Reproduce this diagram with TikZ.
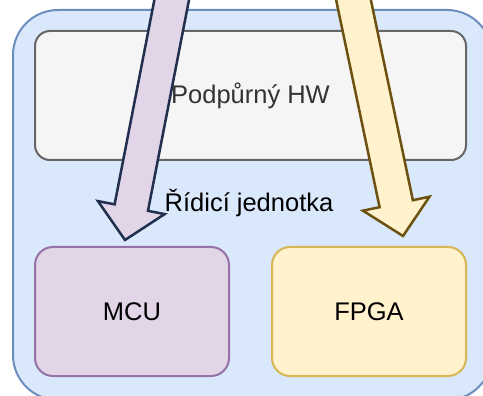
\documentclass[tikz,border=0pt]{standalone}
\usepackage{fontspec}
\setmainfont{Liberation Sans}
\usetikzlibrary{calc}
\definecolor{outerfill}{HTML}{DAE8FC}
\definecolor{outerdraw}{HTML}{6C8EBF}
\definecolor{hwfill}{HTML}{F5F5F5}
\definecolor{hwdraw}{HTML}{666666}
\definecolor{hwtext}{HTML}{333333}
\definecolor{mcufill}{HTML}{E1D5E7}
\definecolor{mcudraw}{HTML}{9673A6}
\definecolor{fpgafill}{HTML}{FFF2CC}
\definecolor{fpgadraw}{HTML}{D6B656}
\definecolor{arrowA}{HTML}{1F2F4D}
\definecolor{arrowB}{HTML}{6D5110}
\tikzset{
  box/.style={draw, line width=2pt, rounded corners=#1},
  lbl/.style={font=\fontsize{25.5}{30}\selectfont, inner sep=0pt},
}
\newcommand{\blockarrow}[4]{% start, tip, fill, draw
  \coordinate (B) at ($(#2)!33pt!(#1)$);
  \filldraw[fill=#3, draw=#4, line width=2.5pt, line join=miter]
    ($(#1)!17pt!90:(#2)$) -- ($(B)!17pt!90:(#2)$) -- ($(B)!34pt!90:(#2)$) -- (#2)
    -- ($(B)!34pt!-90:(#2)$) -- ($(B)!17pt!-90:(#2)$) -- ($(#1)!17pt!-90:(#2)$) -- cycle;
}
\begin{document}
\begin{tikzpicture}[x=1pt,y=-1pt]
\useasboundingbox (0,0) rectangle (483,396);
\clip (0,0) rectangle (483,396);
% outer
\draw[box=45, fill=outerfill, draw=outerdraw] (13,10) rectangle (492,400);
\coordinate (outer) at (249,203);
% HW
\draw[box=15, fill=hwfill, draw=hwdraw] (35,31) rectangle (466,160);
\coordinate (hw) at (250.5,95.5);
% MCU
\draw[box=18, fill=mcufill, draw=mcudraw] (35,247) rectangle (229,376);
\coordinate (mcu) at (132,311.5);
% FPGA
\draw[box=18, fill=fpgafill, draw=fpgadraw] (272,247) rectangle (466,376);
\coordinate (fpga) at (369,311.5);
% arrows
\coordinate (sA) at (174,-12);
\coordinate (tA) at (125,240);
\coordinate (sB) at (351,-12);
\coordinate (tB) at (403,236);
\blockarrow{sA}{tA}{mcufill}{arrowA}
\blockarrow{sB}{tB}{fpgafill}{arrowB}
% texts
\node[lbl, text=hwtext] at (hw) {Podpůrný HW};
\node[lbl] at (outer) {Řídicí jednotka};
\node[lbl] at (mcu) {MCU};
\node[lbl] at (fpga) {FPGA};
\end{tikzpicture}
\end{document}
